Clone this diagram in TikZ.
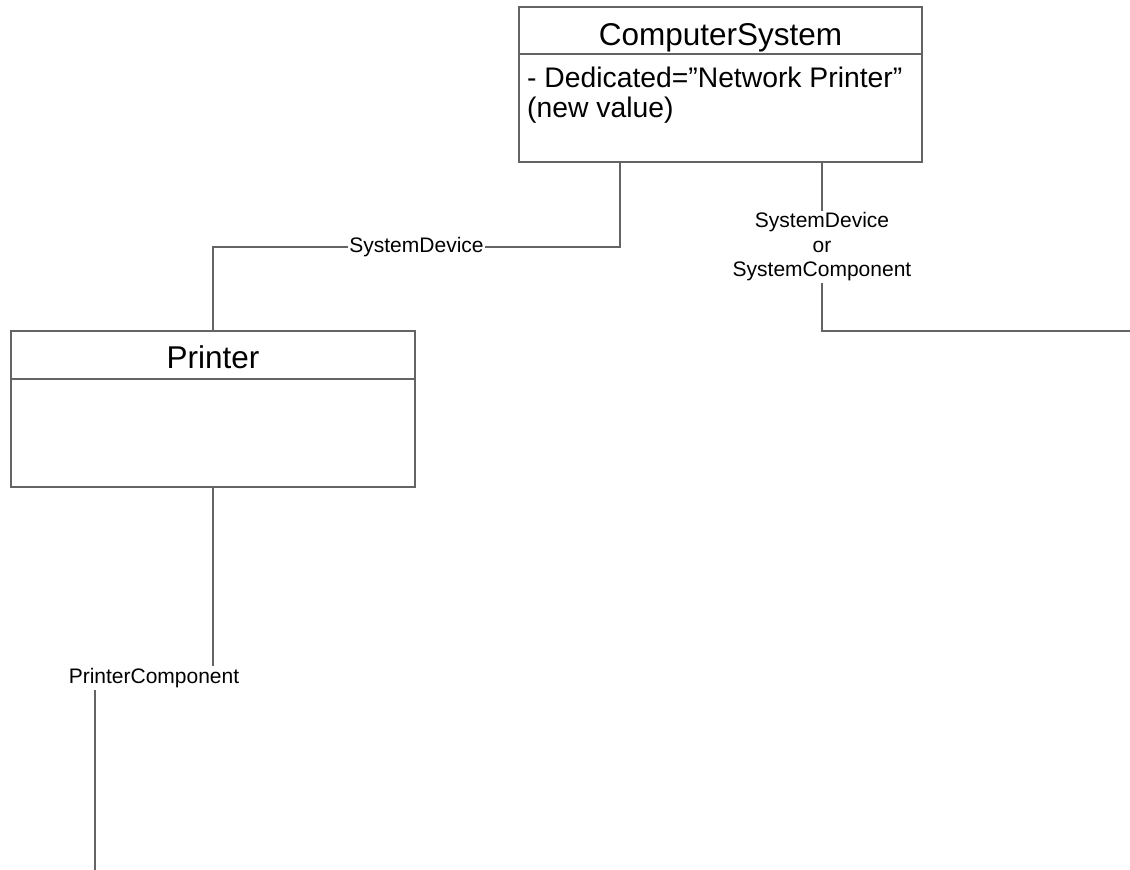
\documentclass[tikz,border=0pt]{standalone}
\usepackage{fontspec}
\setmainfont{Liberation Sans}
\definecolor{edge}{RGB}{100,100,100}
\tikzset{
  box/.style={draw=edge, line width=1.2pt, fill=white, inner sep=0pt},
  title/.style={inner sep=0pt, font=\fontsize{31.5}{37}\selectfont},
  attr/.style={inner sep=0pt, anchor=base west, font=\fontsize{28.3}{32}\selectfont},
  conn/.style={draw=edge, line width=1.2pt},
  lbl/.style={fill=white, inner xsep=1.5pt, inner ysep=2pt, font=\fontsize{21}{24.5}\selectfont, align=center}
}
\begin{document}
\begin{tikzpicture}[x=1pt, y=-1pt]
\useasboundingbox (0,0) rectangle (1130,870);
% ComputerSystem class
\node[box, minimum width=403pt, minimum height=155pt] (cs) at (720.5,84.5) {};
\node[title, anchor=base] (cstitle) at (720.5,45) {ComputerSystem};
\draw[conn] (cs.west |- 0,54) -- (cs.east |- 0,54);
\node[attr] (csattr1) at (527,87) {- Dedicated=”Network Printer”};
\node[attr] (csattr2) at (527,117) {(new value)};
% Printer class
\node[box, minimum width=404pt, minimum height=156pt] (pr) at (213,409) {};
\node[title, anchor=base] (prtitle) at (213,368) {Printer};
\draw[conn] (pr.west |- 0,379) -- (pr.east |- 0,379);
% helper coordinates
\coordinate (c1) at (620,0);
\coordinate (c2) at (822,0);
\coordinate (j1) at (620,247);
\coordinate (j2) at (822,331);
\coordinate (e2) at (1130,331);
\coordinate (j3) at (213,678);
\coordinate (j4) at (95,678);
\coordinate (e3) at (95,870);
% connectors
\draw[conn] (c1 |- cs.south) -- (j1) -- node[lbl] (l1) {SystemDevice} (j1 -| pr.north) -- (pr.north);
\draw[conn] (c2 |- cs.south) -- node[lbl] (l2) {SystemDevice\\or\\SystemComponent} (j2) -- (e2);
\draw[conn] (pr.south) -- (j3) -- node[lbl] (l3) {PrinterComponent} (j4) -- (e3);
\end{tikzpicture}
\end{document}
